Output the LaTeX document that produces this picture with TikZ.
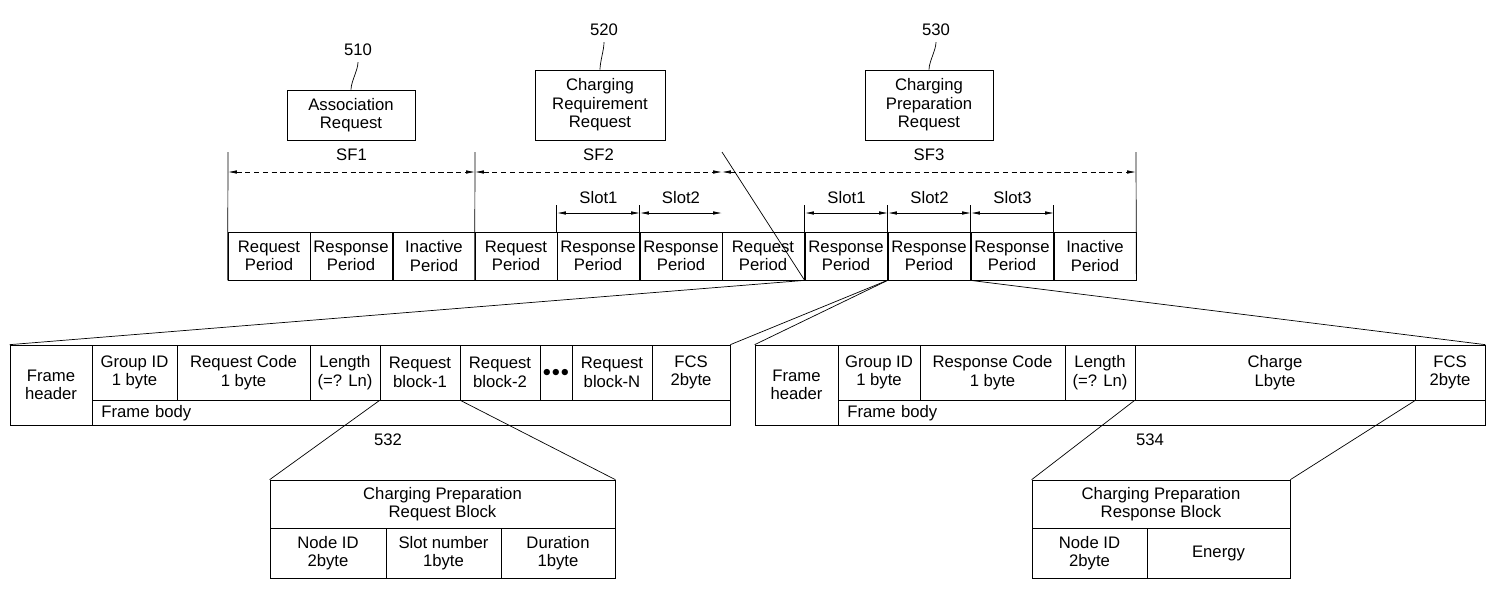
\documentclass[tikz,border=0pt]{standalone}
\usepackage{fontspec}
\setmainfont{Liberation Sans}
\usetikzlibrary{arrows.meta, positioning}

\tikzset{
  cell/.style={draw, inner sep=1pt, align=center, font=\fontsize{9.5}{10.5}\selectfont},
  lbl/.style={font=\fontsize{9.5}{10.5}\selectfont},
  dim/.style={{Latex[length=5pt,width=2pt]}-{Latex[length=5pt,width=2pt]}, thin},
  zoomline/.style={thin}
}
% cell from (x1,y1) to (x2,y2) in pixel units
\newcommand{\blk}[6]{\node[cell, minimum width={(#4-#2)*0.02cm}, minimum height={(#5-#3)*0.02cm}] (#1) at ({(#2+#4)/2},{(#3+#5)/2}) {#6};}

\begin{document}
\begin{tikzpicture}[x=0.02cm, y=-0.02cm]
  \useasboundingbox (0,0) rectangle (1500,593);

  % messages on top
  \blk{m510}{287}{90}{415}{140}{Association\\Request}
  \blk{m520}{535}{70}{665}{140}{Charging\\Requirement\\Request}
  \blk{m530}{865}{70}{993}{140}{Charging\\Preparation\\Request}
  \node[lbl] (n510) at (358,50) {510};
  \node[lbl] (n520) at (604,30) {520};
  \node[lbl] (n530) at (936,30) {530};
  \draw (n510.south) .. controls +(0,8) and +(0,-8) .. (m510.north);
  \draw (n520.south) .. controls +(0,8) and +(0,-8) .. (m520.north);
  \draw (n530.south) .. controls +(0,8) and +(0,-8) .. (m530.north);

  % periods
  \foreach \x/\t [count=\i] in {228/Request,310/Response,393/Inactive,475/Request,557/Response,640/Response,722/Request,805/Response,888/Response,971/Response,1054/Inactive} {
    \pgfmathtruncatemacro{\xe}{\x+82}
    \blk{p\i}{\x}{232}{\xe}{280}{\t\\Period}
  }

  % superframe ticks
  \foreach \x/\n in {228/a,475/b,722/c,1136/d} {
    \coordinate (t\n) at (\x,152);
  }
  \draw (ta) -- (p1.south west);
  \draw (tb) -- (p4.south west);
  \draw (tc) -- (p8.south west);
  \draw (td) -- (p11.south east);
  \draw[dim, densely dashed] (228,172) -- node[lbl, above=3pt] {SF1} (475,172);
  \draw[dim, densely dashed] (475,172) -- node[lbl, above=3pt] {SF2} (722,172);
  \draw[dim, densely dashed] (722,172) -- node[lbl, above=3pt] {SF3} (1136,172);

  % slots
  \foreach \i in {5,6,8,9,10} {
    \draw (p\i.north west) -- ++(0,-27) coordinate (s\i);
  }
  \draw (p10.north east) -- ++(0,-27);
  \draw[dim] (557,213) -- node[lbl, above=2pt] {Slot1} (640,213);
  \draw[dim] (640,213) -- node[lbl, above=2pt] {Slot2} (722,213);
  \draw[dim] (805,213) -- node[lbl, above=2pt] {Slot1} (888,213);
  \draw[dim] (888,213) -- node[lbl, above=2pt] {Slot2} (971,213);
  \draw[dim] (971,213) -- node[lbl, above=2pt] {Slot3} (1054,213);

  % request frame
  \blk{lfh}{10}{345}{92}{425}{Frame\\header}
  \blk{lgid}{92}{345}{177}{400}{Group ID\\1 byte}
  \blk{lrc}{177}{345}{310}{400}{Request Code\\1 byte}
  \blk{llen}{310}{345}{380}{400}{Length\\(=? Ln)}
  \blk{lb1}{380}{345}{460}{400}{Request\\block-1}
  \blk{lb2}{460}{345}{540}{400}{Request\\block-2}
  \blk{ldot}{540}{345}{572}{400}{$\bullet\!\bullet\!\bullet$}
  \blk{lbn}{572}{345}{652}{400}{Request\\block-N}
  \blk{lfcs}{652}{345}{730}{400}{FCS\\2byte}
  \node[cell, anchor=north west, minimum width={638*0.02cm}, minimum height={25*0.02cm}, text width={620*0.02cm}, align=left] (lbody) at (92,400) {Frame body};

  % response frame
  \blk{rfh}{755}{345}{838}{425}{Frame\\header}
  \blk{rgid}{838}{345}{920}{400}{Group ID\\1 byte}
  \blk{rrc}{920}{345}{1065}{400}{Response Code\\1 byte}
  \blk{rlen}{1065}{345}{1135}{400}{Length\\(=? Ln)}
  \blk{rchg}{1135}{345}{1415}{400}{Charge\\Lbyte}
  \blk{rfcs}{1415}{345}{1485}{400}{FCS\\2byte}
  \node[cell, anchor=north west, minimum width={647*0.02cm}, minimum height={25*0.02cm}, text width={629*0.02cm}, align=left] (rbody) at (838,400) {Frame body};

  \draw[zoomline] (p8.south west) -- (lfh.north west);
  \draw[zoomline] (p8.south east) -- (lfcs.north east);
  \draw[zoomline] (p9.south west) -- (rfh.north west);
  \draw[zoomline] (p9.south east) -- (rfcs.north east);

  % block 532
  \blk{q532}{270}{480}{615}{528}{Charging Preparation\\Request Block}
  \blk{qnid}{270}{528}{386}{578}{Node ID\\2byte}
  \blk{qslot}{386}{528}{501}{578}{Slot number\\1byte}
  \blk{qdur}{501}{528}{615}{578}{Duration\\1byte}
  \node[lbl] at (388,440) {532};
  \draw[zoomline] (lb1.south west) -- (q532.north west);
  \draw[zoomline] (lb1.south east) -- (q532.north east);

  % block 534
  \blk{r534}{1032}{480}{1290}{528}{Charging Preparation\\Response Block}
  \blk{rnid}{1032}{528}{1147}{578}{Node ID\\2byte}
  \blk{ren}{1147}{528}{1290}{578}{Energy}
  \node[lbl] at (1150,440) {534};
  \draw[zoomline] (rchg.south west) -- (r534.north west);
  \draw[zoomline] (rchg.south east) -- (r534.north east);
\end{tikzpicture}
\end{document}
